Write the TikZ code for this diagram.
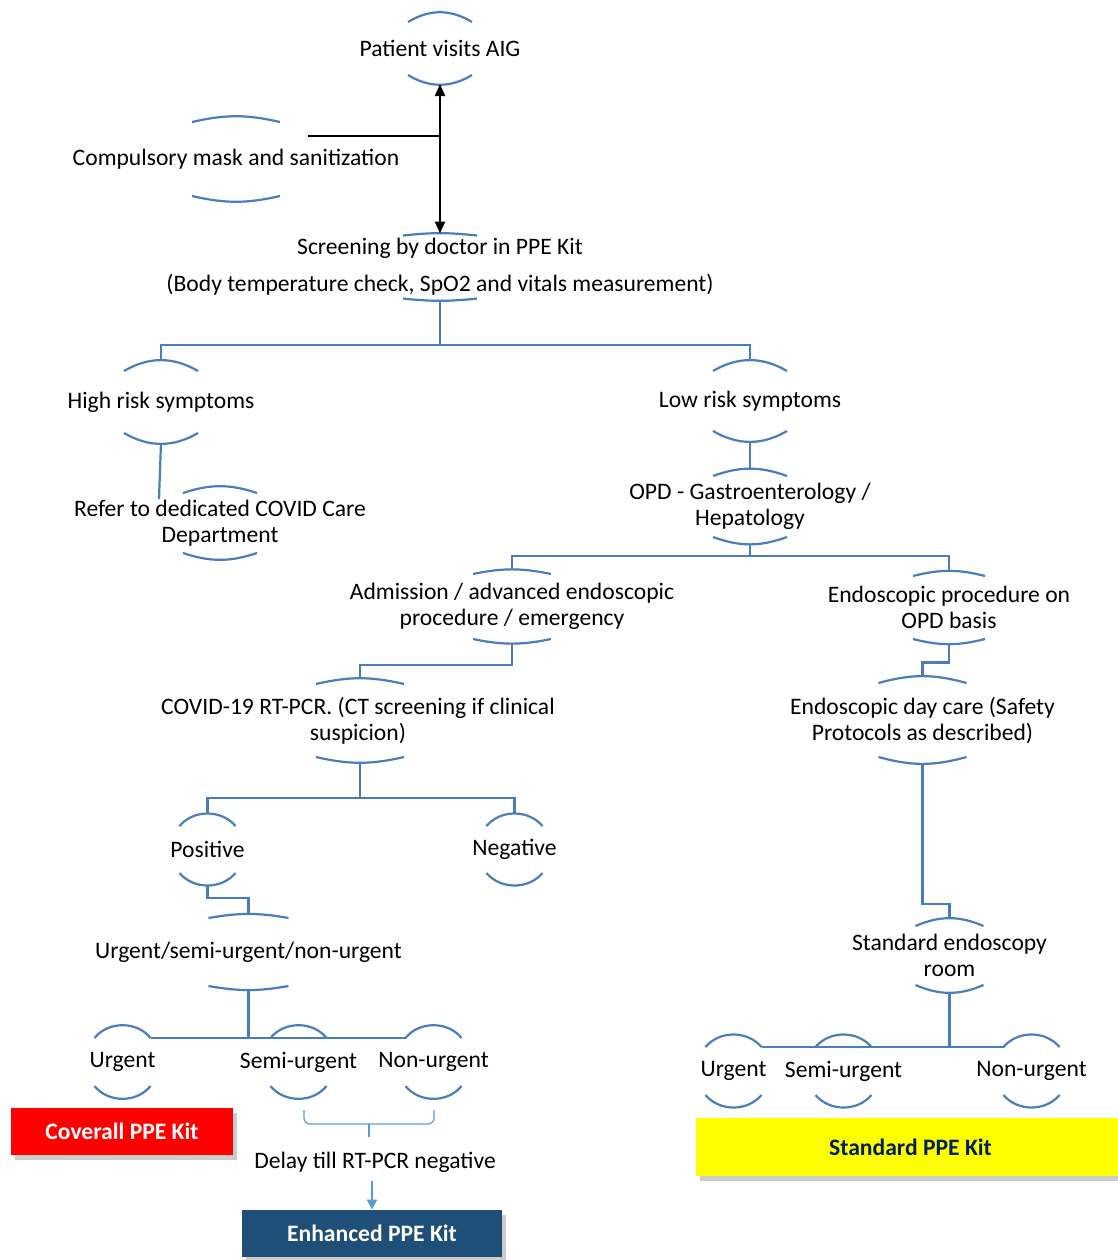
\documentclass[tikz,border=0pt]{standalone}
\usepackage{fontspec}
\setmainfont{Carlito}
\usepackage{tikz}
\usetikzlibrary{arrows.meta,calc,shadows}
\usepackage{xcolor}
\definecolor{lnblue}{HTML}{4A7EBB}
\definecolor{ltblue}{HTML}{5B9BD5}
\definecolor{kitred}{HTML}{FF0000}
\definecolor{kitnavy}{HTML}{1F4E79}
\definecolor{kityellow}{HTML}{FFFF00}
\definecolor{kittext}{HTML}{002060}
\tikzset{
  lid/.style={draw=lnblue,line width=1.1pt},
  link/.style={draw=lnblue,line width=1.1pt},
  blk/.style={draw=black,line width=1pt},
  txt/.style={align=center,inner sep=0pt},
  kit/.style={minimum height=23.5pt,inner sep=0pt,font=\fontsize{11.8}{13}\selectfont\bfseries,
    drop shadow={shadow xshift=2pt,shadow yshift=-2.5pt,opacity=.4}},
}
% arcs above and below a node: name, half width, end offset, sagitta
\newcommand{\lids}[4]{%
  \pgfmathsetmacro\lidbend{2*atan(#4/#2)}
  \draw[lid] ($(#1)+(-#2,#3)$) to[bend left=\lidbend] ($(#1)+(#2,#3)$);
  \draw[lid] ($(#1)+(-#2,-#3)$) to[bend right=\lidbend] ($(#1)+(#2,-#3)$);
  \coordinate (#1-top) at ($(#1)+(0,#3+#4)$);
  \coordinate (#1-bot) at ($(#1)+(0,-#3-#4)$);
  \coordinate (#1-tl) at ($(#1)+(-#2,#3)$);
  \coordinate (#1-tr) at ($(#1)+(#2,#3)$);
}

\begin{document}
\begin{tikzpicture}[x=.5pt,y=.5pt,font=\fontsize{11.8}{13}\selectfont]
  \useasboundingbox (0,0) rectangle (1118,-1260);

  \node[txt] (patient) at (440,-48.5) {Patient visits AIG};
  \node[txt] (mask) at (236,-159) {Compulsory mask and sanitization};
  \node[txt] (screen) at (440,-267) {Screening by doctor in PPE Kit\\[5.5pt]
    (Body temperature check, SpO2 and vitals measurement)};
  \node[txt] (highrisk) at (161,-402) {High risk symptoms};
  \node[txt] (lowrisk) at (750,-401) {Low risk symptoms};
  \node[txt] (refer) at (220,-523) {Refer to dedicated COVID Care\\Department};
  \node[txt] (opd) at (750,-506.5) {OPD - Gastroenterology /\\Hepatology};
  \node[txt] (admit) at (512,-606.5) {Admission / advanced endoscopic\\procedure / emergency};
  \node[txt] (endoopd) at (949,-607.5) {Endoscopic procedure on\\OPD basis};
  \node[txt] (rtpcr) at (358,-720.5) {COVID-19 RT-PCR. (CT screening if clinical\\suspicion)};
  \node[txt] (daycare) at (922.5,-720) {Endoscopic day care (Safety\\Protocols as described)};
  \node[txt] (positive) at (207.5,-849.5) {Positive};
  \node[txt] (negative) at (514.5,-849.5) {Negative};
  \node[txt] (urgency) at (248.5,-952) {Urgent/semi-urgent/non-urgent};
  \node[txt] (stdroom) at (949.5,-955.5) {Standard endoscopy\\room};
  \node[txt] (urgL) at (122.5,-1062) {Urgent};
  \node[txt] (semiL) at (298.5,-1062) {Semi-urgent};
  \node[txt] (nonL) at (433.5,-1062) {Non-urgent};
  \node[txt] (urgR) at (733.5,-1071) {Urgent};
  \node[txt] (semiR) at (843.5,-1071) {Semi-urgent};
  \node[txt] (nonR) at (1031.5,-1071) {Non-urgent};
  \node[txt] (delay) at (375,-1162) {Delay till RT-PCR negative};

  \node[kit,fill=kitred,text=white,minimum width=111pt] (coverall) at (122,-1131.5) {Coverall PPE Kit};
  \node[kit,fill=kitnavy,text=white,minimum width=130pt] (enhanced) at (372,-1233.5) {Enhanced PPE Kit};
  \node[kit,fill=kityellow,text=kittext,minimum width=214.5pt,minimum height=29pt] (standard) at (910.5,-1147) {Standard PPE Kit};

  \lids{patient}{32}{26.5}{9}
  \lids{mask}{44}{37}{5}
  \lids{screen}{37}{31.5}{2}
  \lids{highrisk}{37}{31}{10}
  \lids{lowrisk}{37}{30}{10}
  \lids{refer}{37}{30}{6}
  \lids{opd}{37}{30.5}{6.5}
  \lids{admit}{39}{32.5}{4}
  \lids{endoopd}{36}{31.5}{4.5}
  \lids{daycare}{44}{37}{6}
  \lids{positive}{28}{23.5}{13}
  \lids{negative}{28}{23.5}{13}
  \lids{urgency}{40}{34}{3.5}
  \lids{stdroom}{34}{29.5}{7}
  \lids{urgL}{28}{24}{13.5}
  \lids{semiL}{28}{24}{13.5}
  \lids{nonL}{28}{24}{13.5}
  \lids{urgR}{28}{24}{13}
  \lids{semiR}{28}{24}{13}
  \lids{nonR}{28}{24}{13}
  \coordinate (rtpcrc) at (360,-720.5);
  \lids{rtpcrc}{44}{36.5}{5}

  \draw[blk,{Triangle[length=6pt,width=5pt]}-{Triangle[length=6pt,width=5pt]}] (patient-bot) -- (screen-top);
  \coordinate (maskout) at (308,-136);
  \draw[blk] (maskout) -- (maskout -| patient-bot);

  \coordinate (split1) at (440,-345);
  \draw[link] (screen-bot) -- (split1) -| (highrisk-top);
  \draw[link] (split1) -| (lowrisk-top);
  \coordinate (referin) at (159,-499);
  \draw[link] (highrisk-bot) -- (referin);
  \draw[link] (lowrisk-bot) -- (opd-top);
  \coordinate (split2) at (750,-556);
  \draw[link] (opd-bot) -- (split2) -| (admit-top);
  \draw[link] (split2) -| (endoopd-top);
  \draw[link] (admit-bot) -- ++(0,-22) -| (rtpcrc-top);
  \draw[link] (endoopd-bot) -- ++(0,-19) -| (daycare-top);
  \draw[link] (daycare-bot) -- ++(0,-141) -| (stdroom-top);
  \coordinate (split3) at (360,-798);
  \draw[link] (rtpcrc-bot) -- (split3) -| (positive-top);
  \draw[link] (split3) -| (negative-top);
  \draw[link] (positive-bot) -- ++(0,-12) -| (urgency-top);
  \draw[link] (urgL-tr) -- (nonL-tl);
  \draw[link] (urgency-bot) -- (urgency-bot |- urgL-tr);
  \draw[link] (urgR-tr) -- (nonR-tl);
  \draw[link] (stdroom-bot) -- (stdroom-bot |- urgR-tr);

  \draw[ltblue,line width=.6pt,rounded corners=3pt] (304,-1110) |- (434,-1124) -- (434,-1110);
  \draw[ltblue,line width=.6pt] (369,-1124) -- (369,-1137);
  \draw[ltblue,line width=.8pt,-{Triangle[length=5pt,width=5pt]},shorten <=4pt] (delay.south -| enhanced) -- (enhanced.north);
\end{tikzpicture}
\end{document}
